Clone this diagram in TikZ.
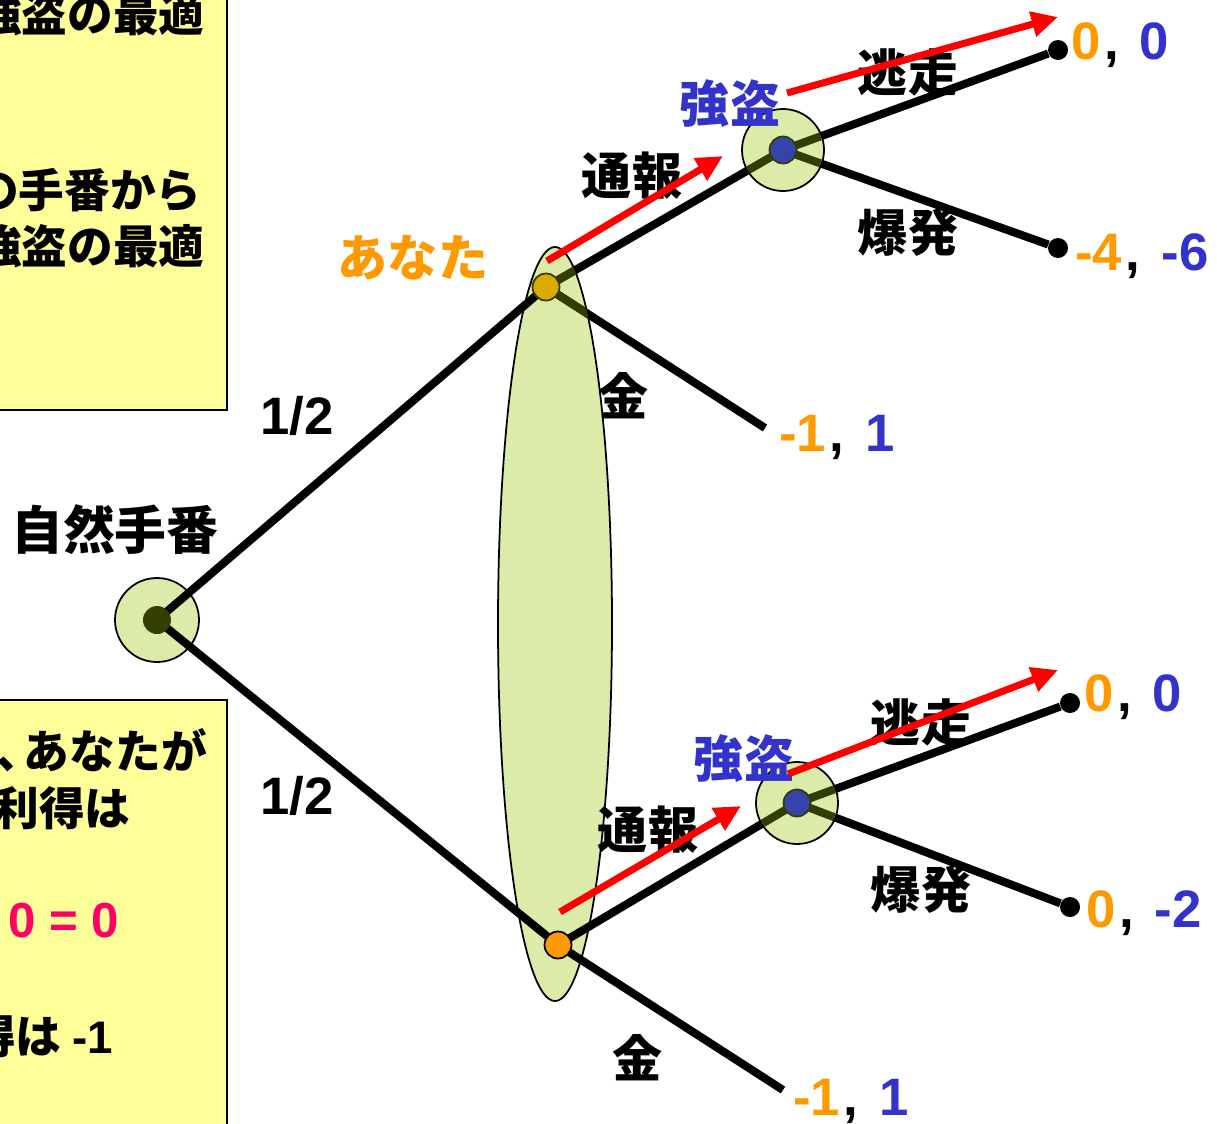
\documentclass[tikz,border=0pt]{standalone}
\usepackage{fontspec}
\setmainfont{Liberation Sans}
\newfontfamily\jp{Noto Sans CJK JP}
\usetikzlibrary{arrows.meta}
\definecolor{orgc}{RGB}{255,153,0}
\definecolor{bluec}{RGB}{51,51,204}
\definecolor{greenf}{RGB}{218,235,170}
\definecolor{olivec}{RGB}{51,61,0}
\definecolor{rootc}{RGB}{51,64,0}
\definecolor{goldn}{RGB}{221,170,0}
\definecolor{bnode}{RGB}{51,68,170}
\definecolor{yel}{RGB}{255,255,153}
\definecolor{magc}{RGB}{255,0,102}
\newcommand{\pay}[2]{{\color{orgc}#1}\hspace{2pt}{\color{black},}\hspace{12pt}{\color{bluec}#2}}
\tikzset{
  edge/.style={line width=4.6pt, black},
  oedge/.style={line width=4.6pt, olivec},
  hl/.style={line width=4pt, red, -{Triangle[length=15pt,width=14pt]}},
  infoset/.style={fill=greenf, draw=black, line width=1pt},
  enddot/.style={circle, fill=black, inner sep=0pt, minimum size=0.4cm},
  dec/.style={circle, inner sep=0pt, minimum size=0.54cm, line width=1pt},
  lab/.style={font=\fontsize{28.5}{30}\selectfont\jp\bfseries, inner sep=0pt},
  num/.style={font=\fontsize{30}{32}\selectfont\bfseries, inner sep=0pt},
  boxtxt/.style={font=\fontsize{26}{28}\selectfont\jp\bfseries, inner sep=0pt},
  ybox/.style={fill=yel, draw=black, line width=1.2pt}
}
\begin{document}
\begin{tikzpicture}[x=0.02cm, y=-0.02cm]
\useasboundingbox (0,0) rectangle (1217,1123);
\begin{scope}
\clip (0,0) rectangle (1217,1123);
\fill[white] (0,0) rectangle (1217,1123);

% left boxes
\draw[ybox] (-20,-20) rectangle (227,410);
\draw[ybox] (-20,700) rectangle (227,1143);
\node[boxtxt, anchor=east] (bt1) at (205,14) {強盗の最適};
\node[boxtxt, anchor=east] (bt2) at (202,190) {の手番から};
\node[boxtxt, anchor=east] (bt3) at (205,246) {強盗の最適};
\node[boxtxt, anchor=east] (bb1) at (207,750) {、\hspace{-0.4em}あなたが};
\node[boxtxt, anchor=east] (bb2) at (131,808) {利得は};
\node[num, anchor=west, text=magc, font=\fontsize{28}{30}\selectfont\bfseries] (bb3) at (8,921) {0 = 0};
\node[boxtxt, anchor=east] (bb4) at (113,1036) {得は {\fontspec{Liberation Sans}\bfseries -1}};

% decision points
\coordinate (root) at (157,620);
\coordinate (ua) at (546,287);
\coordinate (ub) at (558,945);
\coordinate (ra) at (783,150);
\coordinate (rb) at (797,803);
\coordinate (ga) at (765,428);
\coordinate (gb) at (783,1090);
\node[enddot] (ta1) at (1058,50) {};
\node[enddot] (ta2) at (1058,248) {};
\node[enddot] (tb1) at (1070,703) {};
\node[enddot] (tb2) at (1070,907) {};

% information set
\draw[infoset] (555,624) ellipse [x radius=57, y radius=377];
% root circle under the lines
\draw[infoset] (root) circle (42);

% edges
\draw[edge] (root) -- (ua);
\draw[edge] (root) -- (ub);
\draw[edge] (ua) -- (ra);
\draw[edge] (ua) -- (ga);
\draw[edge] (ra) -- (ta1);
\draw[edge] (ra) -- (ta2);
\draw[edge] (ub) -- (rb);
\draw[edge] (ub) -- (gb);
\draw[edge] (rb) -- (tb1);
\draw[edge] (rb) -- (tb2);

% olive segments in upper part of the information set
\begin{scope}
\clip (555,624) ellipse [x radius=57, y radius=377];
\draw[oedge] (ua) -- (ra);
\draw[oedge] (ua) -- (ga);
\end{scope}

% robber circles over the lines
\draw[infoset] (ra) circle (41);
\draw[infoset] (rb) circle (41);
\begin{scope}
\clip (ra) circle (40);
\draw[oedge] (ua) -- (ra) -- (ta1);
\draw[oedge] (ra) -- (ta2);
\end{scope}
\begin{scope}
\clip (rb) circle (40);
\draw[oedge] (ub) -- (rb) -- (tb1);
\draw[oedge] (rb) -- (tb2);
\end{scope}

% node dots
\node[dec, fill=rootc, minimum size=0.56cm] (rootdot) at (root) {};
\node[dec, fill=goldn, draw=olivec] (uadot) at (ua) {};
\node[dec, fill=orgc, draw=black] (ubdot) at (ub) {};
\node[dec, fill=bnode, draw=olivec] (radot) at (ra) {};
\node[dec, fill=bnode, draw=olivec] (rbdot) at (rb) {};

% labels
\node[lab, font=\fontsize{29.5}{31}\selectfont\jp\bfseries] (lnat) at (115,530) {自然手番};
\node[num] (p1) at (297,416) {1/2};
\node[num] (p2) at (297,796) {1/2};
\node[lab, text=orgc] (lyou) at (413,258) {あなた};
\node[lab] (ltu1) at (632,176) {通報};
\node[lab] (ltu2) at (648,830) {通報};
\node[lab] (lk1) at (624,396) {金};
\node[lab] (lk2) at (638,1058) {金};
\node[lab, text=bluec] (lr1) at (730,104) {強盗};
\node[lab, text=bluec] (lr2) at (744,759) {強盗};
\node[lab] (le1) at (908,72) {逃走};
\node[lab] (le2) at (921,722) {逃走};
\node[lab] (lx1) at (908,233) {爆発};
\node[lab] (lx2) at (921,890) {爆発};

% payoffs
\node[num, anchor=west] (pa1) at (1071,45) {\pay{0}{0}};
\node[num, anchor=west] (pa2) at (1075,256) {\pay{-4}{-6}};
\node[num, anchor=west] (pg1) at (779,437) {\pay{-1}{1}};
\node[num, anchor=west] (pb1) at (1084,697) {\pay{0}{0}};
\node[num, anchor=west] (pb2) at (1086,913) {\pay{0}{-2}};
\node[num, anchor=west] (pg2) at (793,1101) {\pay{-1}{1}};

% red arrows (best responses)
\coordinate (a1s) at (547,261);
\coordinate (a1e) at (723,156);
\coordinate (a2s) at (787,93);
\coordinate (a2e) at (1058,17);
\coordinate (b1s) at (560,912);
\coordinate (b1e) at (741,806);
\coordinate (b2s) at (788,774);
\coordinate (b2e) at (1058,670);
\draw[hl] (a1s) -- (a1e);
\draw[hl] (a2s) -- (a2e);
\draw[hl] (b1s) -- (b1e);
\draw[hl] (b2s) -- (b2e);
\end{scope}
\end{tikzpicture}
\end{document}
